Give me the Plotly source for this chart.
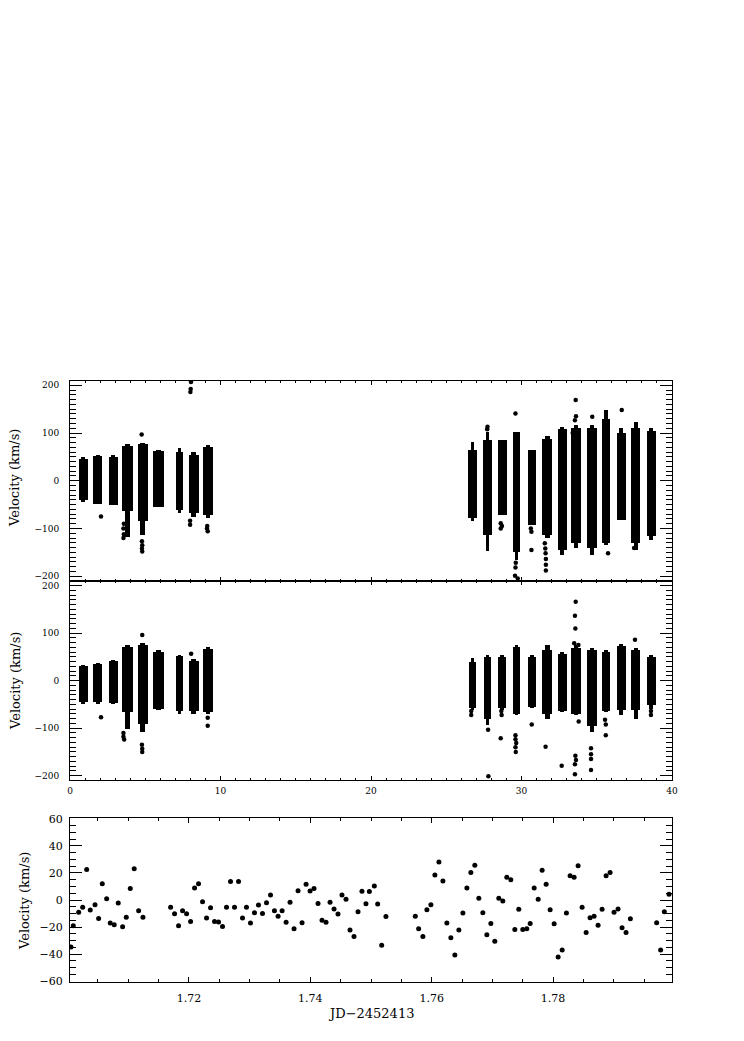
import plotly.graph_objects as go

# ---------------- data ----------------
# Nightly clusters of velocities (days since start), panel 1 (raw) and panel 2 (cleaned)
cl_x = [0.88, 1.84, 2.86, 3.82, 4.83, 5.90, 7.28, 8.22, 9.17,
        26.74, 27.74, 28.72, 29.68, 30.70, 31.72, 32.70, 33.62, 34.67, 35.60, 36.62, 37.58, 38.62]

top_w = [0.58, 0.58, 0.60, 0.70, 0.66, 0.72, 0.48, 0.66, 0.62,
         0.55, 0.56, 0.60, 0.44, 0.49, 0.67, 0.60, 0.66, 0.67, 0.55, 0.59, 0.59, 0.60]
top_lo = [-40, -49, -50, -64, -85, -56, -62, -68, -72,
          -78, -113, -72, -150, -93, -113, -145, -130, -140, -130, -82, -130, -115]
top_hi = [45, 52, 50, 72, 78, 62, 60, 55, 70,
          64, 85, 85, 103, 64, 88, 108, 110, 110, 130, 100, 110, 105]
top_tail_lo = [-44, -49, -50, -118, -113, -56, -68, -75, -78,
               -85, -148, -72, -165, -93, -120, -155, -141, -155, -134, -82, -145, -124]
top_tail_hi = [50, 53, 53, 76, 80, 64, 68, 60, 75,
               82, 103, 85, 103, 64, 93, 113, 117, 117, 148, 110, 124, 110]
top_out_x = [2.06, 3.58, 3.55, 3.58, 3.55, 4.76, 4.78, 4.80, 4.78, 4.80,
             8.00, 8.02, 8.04, 7.98, 7.98, 9.12, 9.10, 9.15,
             27.72, 27.74, 28.62, 28.70, 28.62, 29.60, 29.62, 29.60, 29.57, 29.75,
             30.62, 30.66, 30.66, 31.55, 31.58, 31.60, 31.62, 31.62, 31.62,
             33.45, 33.40, 33.55, 33.62, 33.60, 34.70, 35.75, 36.66, 37.48]
top_out_y = [-75, -90, -100, -112, -120, 97, -127, -135, -142, -148,
             186, 192, 207, -84, -92, -95, -100, -106,
             108, 113, -89, -95, -100, 141, -172, -182, -199, -205,
             -100, -107, -145, -131, -142, -152, -164, -176, -188,
             88, 100, 127, 135, 169, 134, -152, 148, -141]

mid_w = [0.58, 0.58, 0.60, 0.70, 0.66, 0.72, 0.48, 0.66, 0.62,
         0.50, 0.53, 0.55, 0.44, 0.49, 0.67, 0.60, 0.66, 0.67, 0.55, 0.59, 0.59, 0.60]
mid_lo = [-43, -43, -45, -64, -90, -58, -62, -62, -64,
          -57, -80, -57, -70, -55, -70, -62, -68, -95, -62, -60, -60, -50]
mid_hi = [33, 37, 42, 72, 76, 62, 54, 42, 68,
          41, 52, 52, 72, 52, 65, 58, 70, 65, 62, 74, 66, 52]
mid_tail_lo = [-47, -47, -47, -100, -106, -61, -68, -68, -70,
               -60, -93, -60, -72, -57, -79, -65, -72, -107, -65, -72, -79, -58]
mid_tail_hi = [35, 39, 44, 76, 80, 65, 56, 47, 72,
               48, 55, 55, 76, 55, 76, 62, 76, 69, 66, 79, 70, 55]
mid_out_x = [2.06, 3.55, 3.55, 3.60, 4.80, 4.78, 4.80, 4.80, 8.05, 9.15, 9.15,
             26.66, 26.66, 27.78, 27.80, 28.66, 28.68, 28.62,
             29.60, 29.60, 29.65, 29.60, 29.62, 30.68, 31.60, 32.67,
             33.60, 33.55, 33.58, 33.50, 33.78, 33.80, 33.58, 33.62, 33.55, 33.55,
             34.62, 34.62, 34.62, 34.62, 35.55, 35.60, 35.60, 37.54, 38.60, 38.60]
mid_out_y = [-77, -110, -118, -124, 96, -135, -143, -150, 57, -78, -95,
             -64, -72, -103, -201, -64, -72, -121,
             -115, -123, -131, -140, -150, -92, -139, -179,
             166, 137, 110, 79, 75, -86, -158, -167, -176, -197,
             -142, -155, -165, -188, -82, -92, -115, 86, -64, -72]

# Single-night velocities (JD - 2452413)
jd = [1.70056, 1.70094, 1.70183, 1.70249, 1.70315, 1.70374, 1.70452, 1.70512, 1.70572, 1.70644,
      1.70703, 1.70769, 1.70835, 1.70907, 1.70967, 1.71033, 1.71098, 1.71171, 1.71242,
      1.71698, 1.71763, 1.71829, 1.71895, 1.71961, 1.72027, 1.72093, 1.72158, 1.72224, 1.72290,
      1.72356, 1.72422, 1.72488, 1.72553, 1.72619, 1.72685, 1.72751, 1.72817, 1.72883, 1.72948,
      1.73014, 1.73080, 1.73146, 1.73212, 1.73278, 1.73344, 1.73409, 1.73469, 1.73535, 1.73601,
      1.73666, 1.73732, 1.73798, 1.73864, 1.73930, 1.73996, 1.74061, 1.74127, 1.74193, 1.74259,
      1.74325, 1.74391, 1.74456, 1.74522, 1.74588, 1.74654, 1.74720, 1.74786, 1.74851, 1.74917,
      1.74973, 1.75055, 1.75110, 1.75176, 1.75246,
      1.75730, 1.75785, 1.75855, 1.75921, 1.75987, 1.76053, 1.76119, 1.76185, 1.76250, 1.76316,
      1.76382, 1.76448, 1.76514, 1.76580, 1.76645, 1.76711, 1.76777, 1.76843, 1.76909, 1.76975,
      1.77040, 1.77106, 1.77172, 1.77238, 1.77304, 1.77370, 1.77435, 1.77501, 1.77567, 1.77623,
      1.77689, 1.77755, 1.77820, 1.77886, 1.77952, 1.78018, 1.78084, 1.78150, 1.78220, 1.78281,
      1.78347, 1.78413, 1.78479, 1.78545, 1.78610, 1.78676, 1.78742, 1.78808, 1.78874, 1.78940,
      1.79005, 1.79071, 1.79137, 1.79203, 1.79274,
      1.79707, 1.79773, 1.79834, 1.79911]
vel = [-34.6, -19.0, -9.1, -5.4, 22.5, -7.4, -3.5, -13.6, 11.9, 1.0,
       -17.0, -18.3, -2.2, -19.8, -12.8, 8.4, 23.0, -7.9, -12.8,
       -5.4, -10.1, -19.0, -7.9, -10.1, -15.8, 8.9, 11.9, -1.2, -13.3,
       -5.7, -15.8, -16.3, -19.5, -5.4, 13.6, -5.4, 13.6, -13.3, -5.4,
       -17.0, -9.4, -3.7, -9.9, -2.0, 3.7, -7.9, -11.9, -7.9, -16.5,
       -1.7, -21.2, 6.9, -16.8, 11.6, 6.7, 8.4, -2.5, -15.0, -16.5,
       -1.7, -6.7, -10.4, 3.7, 0.5, -22.2, -26.9, -8.6, 6.4, -2.7,
       6.2, 10.4, -3.0, -33.3, -12.1,
       -11.9, -21.2, -26.9, -7.2, -3.5, 18.5, 28.1, 14.1, -17.0, -27.9,
       -40.5, -22.2, -9.6, 8.9, 20.2, 25.7, 1.2, -9.4, -25.7, -17.3,
       -30.4, 1.2, -0.7, 16.8, 15.0, -21.7, -6.9, -21.7, -21.2, -17.3,
       8.9, 0.5, 22.0, 11.6, -7.2, -17.5, -42.0, -36.8, -9.6, 17.8,
       16.8, 25.2, -5.4, -23.9, -13.1, -11.9, -18.7, -6.9, 17.8, 20.2,
       -9.1, -6.7, -20.5, -23.9, -13.9,
       -16.8, -36.8, -8.6, 4.2]

# ---------------- figure ----------------
OFF = 8  # page body margin
W, H = 744 - 2 * OFF, 1041 - 2 * OFF
def px_x(p):
    return (p - OFF) / W
def px_y(p):
    return 1 - (p - OFF) / H

xdom = [px_x(70), px_x(672)]
dom_top = [px_y(580.5), px_y(381)]
dom_mid = [px_y(780), px_y(580.5)]
dom_bot = [px_y(982), px_y(818)]

fig = go.Figure()

def add_clusters(xa, ya, lo, hi, w, tlo, thi, ox, oy):
    fig.add_trace(go.Bar(x=cl_x, y=[h - l for h, l in zip(thi, tlo)], base=tlo,
                         width=[v * 0.45 for v in w], marker=dict(color="black", line=dict(width=0)),
                         xaxis=xa, yaxis=ya, showlegend=False, hoverinfo="skip"))
    fig.add_trace(go.Bar(x=cl_x, y=[h - l for h, l in zip(hi, lo)], base=lo,
                         width=w, marker=dict(color="black", line=dict(width=0)),
                         xaxis=xa, yaxis=ya, showlegend=False, hoverinfo="skip"))
    fig.add_trace(go.Scatter(x=ox, y=oy, mode="markers",
                             marker=dict(color="black", size=4.5, symbol="circle"),
                             xaxis=xa, yaxis=ya, showlegend=False, hoverinfo="skip"))

add_clusters("x", "y", top_lo, top_hi, top_w, top_tail_lo, top_tail_hi, top_out_x, top_out_y)
add_clusters("x2", "y2", mid_lo, mid_hi, mid_w, mid_tail_lo, mid_tail_hi, mid_out_x, mid_out_y)

fig.add_trace(go.Scatter(x=jd, y=vel, mode="markers",
                         marker=dict(color="black", size=5, symbol="circle"),
                         xaxis="x3", yaxis="y3", showlegend=False, hoverinfo="skip"))

tick_font_small = dict(family="DejaVu Serif", size=9, color="black")
tick_font_big = dict(family="DejaVu Serif", size=11, color="black")

def xaxis_cfg(dom, anchor, rng, dtick, tick0, mdtick, labels, font, tl, mtl, standoff, fmt=None):
    d = dict(domain=dom, anchor=anchor, range=rng, dtick=dtick, tick0=tick0,
             ticks="inside", ticklen=tl, tickwidth=1, tickcolor="black",
             showline=True, linecolor="black", linewidth=1, mirror="ticks",
             showgrid=False, zeroline=False, showticklabels=labels, tickfont=font,
             automargin=False, ticklabelstandoff=standoff,
             minor=dict(dtick=mdtick, ticks="inside", ticklen=mtl, tickcolor="black",
                        tickwidth=1, showgrid=False))
    if fmt:
        d["tickformat"] = fmt
    return d

def yaxis_cfg(dom, anchor, rng, dtick, mdtick, font, standoff):
    return dict(domain=dom, anchor=anchor, range=rng, dtick=dtick, tick0=0,
                ticks="inside", ticklen=12, tickwidth=1, tickcolor="black",
                showline=True, linecolor="black", linewidth=1, mirror="ticks",
                showgrid=False, zeroline=False, tickfont=font, ticklabelstandoff=standoff,
                automargin=False,
                minor=dict(dtick=mdtick, ticks="inside", ticklen=6, tickcolor="black",
                           tickwidth=1, showgrid=False))

fig.update_layout(
    width=W, height=H,
    margin=dict(l=0, r=0, t=0, b=0, autoexpand=False),
    paper_bgcolor="white", plot_bgcolor="white",
    barmode="overlay", bargap=0,
    xaxis=xaxis_cfg(xdom, "y", [0, 40], 10, 0, 1, False, tick_font_small, 4, 2, 0),
    xaxis2=xaxis_cfg(xdom, "y2", [0, 40], 10, 0, 1, True, tick_font_small, 4, 2, 2),
    xaxis3=xaxis_cfg(xdom, "y3", [1.7004, 1.7996], 0.02, 1.70, 0.005, True, tick_font_big, 5, 3, 6, fmt=".2f"),
    yaxis=yaxis_cfg(dom_top, "x", [-209, 209], 100, 10, tick_font_small, 8),
    yaxis2=yaxis_cfg(dom_mid, "x2", [-209, 211], 100, 10, tick_font_small, 8),
    yaxis3=yaxis_cfg(dom_bot, "x3", [-60.5, 60.5], 20, 5, tick_font_big, 4),
    font=dict(family="DejaVu Serif", color="black"),
)

title_font = dict(family="DejaVu Serif", size=13, color="black")
for yc, xc in [(478, 15), (681, 15), (901, 24)]:
    fig.add_annotation(text="Velocity (km/s)", xref="paper", yref="paper",
                       x=px_x(xc), y=px_y(yc), textangle=-90, showarrow=False,
                       font=title_font, xanchor="center", yanchor="middle")
fig.add_annotation(text="JD\u22122452413", xref="paper", yref="paper",
                   x=px_x(371), y=px_y(1013), showarrow=False,
                   font=dict(family="DejaVu Serif", size=13, color="black"),
                   xanchor="center", yanchor="middle")

fig.write_html("out.html")
